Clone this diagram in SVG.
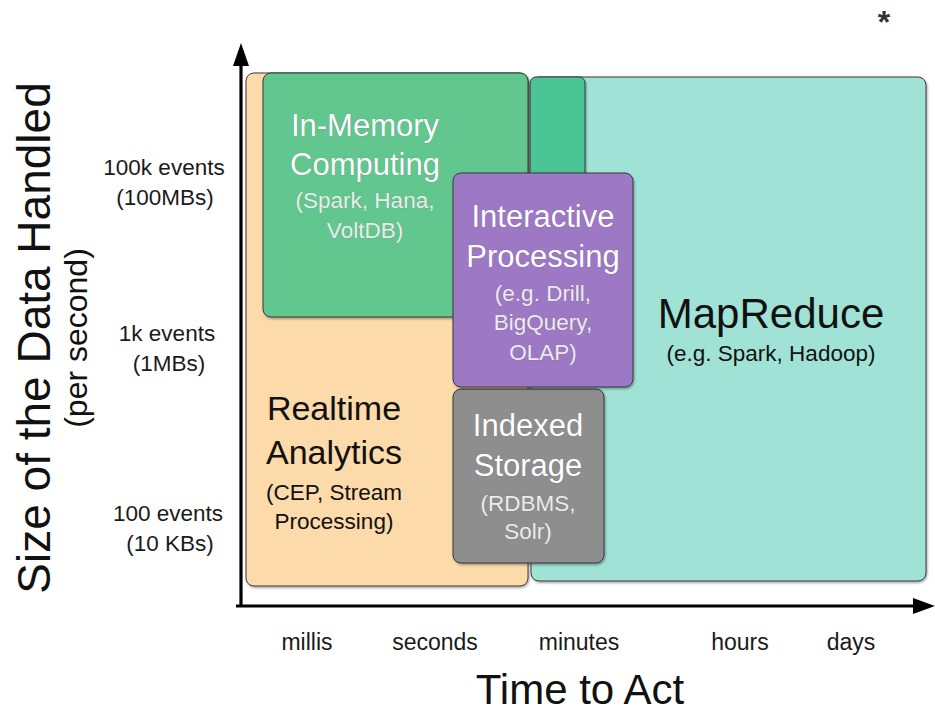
<svg xmlns="http://www.w3.org/2000/svg" width="935" height="715" viewBox="0 0 935 715">
  <defs>
    <filter id="shadow" x="-5%" y="-5%" width="110%" height="110%">
      <feDropShadow dx="1" dy="1.5" stdDeviation="0.8" flood-color="#000" flood-opacity="0.35"/>
    </filter>
  </defs>
  <style>
    text { font-family: "Liberation Sans", Arial, Helvetica, sans-serif; text-anchor: middle; }
    .box { stroke: #3a3a3a; stroke-width: 1; filter: url(#shadow); }
    .axis-label { font-size: 22.5px; fill: #1a1a1a; }
    .tick { font-size: 23px; fill: #1a1a1a; }
    .title-w { font-size: 31px; fill: #ffffff; stroke: rgba(60,60,60,0.35); stroke-width: 0.7; paint-order: stroke; }
    .sub-w { font-size: 22.5px; fill: #ececec; stroke: rgba(60,60,60,0.3); stroke-width: 0.6; paint-order: stroke; }
    .title-b { fill: #111111; }
    .sub-b { font-size: 22.5px; fill: #111111; }
  </style>

  <rect width="935" height="715" fill="#ffffff"/>

  <!-- Realtime Analytics (background region) -->
  <g id="realtime-analytics">
    <rect class="box" x="246" y="73" width="282" height="513" rx="8" fill="#FDDAAA"/>
    <text class="title-b" x="334" y="420" font-size="34">Realtime</text>
    <text class="title-b" x="334" y="464" font-size="34">Analytics</text>
    <text class="sub-b" x="334" y="500">(CEP, Stream</text>
    <text class="sub-b" x="334" y="529">Processing)</text>
  </g>

  <!-- MapReduce region -->
  <g id="mapreduce">
    <rect class="box" x="531" y="77" width="395" height="504" rx="8" fill="#A0E3D6"/>
    <rect class="box" x="530" y="77" width="55" height="240" rx="6" fill="#4CC596"/>
    <text class="title-b" x="771" y="328" font-size="42">MapReduce</text>
    <text class="sub-b" x="771" y="361">(e.g. Spark, Hadoop)</text>
  </g>

  <!-- In-Memory Computing -->
  <g id="in-memory">
    <rect class="box" x="263" y="73" width="265" height="244" rx="8" fill="#62C68F"/>
    <text class="title-w" x="365" y="136">In-Memory</text>
    <text class="title-w" x="365" y="175">Computing</text>
    <text class="sub-w" x="365" y="208">(Spark, Hana,</text>
    <text class="sub-w" x="365" y="238">VoltDB)</text>
  </g>

  <!-- Indexed Storage -->
  <g id="indexed-storage">
    <rect class="box" x="453" y="389" width="151" height="174" rx="8" fill="#8E8E8E"/>
    <text class="title-w" x="528" y="436">Indexed</text>
    <text class="title-w" x="528" y="476">Storage</text>
    <text class="sub-w" x="528" y="511">(RDBMS,</text>
    <text class="sub-w" x="528" y="539">Solr)</text>
  </g>

  <!-- Interactive Processing -->
  <g id="interactive-processing">
    <rect class="box" x="453" y="173" width="180" height="214" rx="8" fill="#9D78C4"/>
    <text class="title-w" x="543" y="227">Interactive</text>
    <text class="title-w" x="543" y="267">Processing</text>
    <text class="sub-w" x="543" y="301">(e.g. Drill,</text>
    <text class="sub-w" x="543" y="330">BigQuery,</text>
    <text class="sub-w" x="543" y="360">OLAP)</text>
  </g>

  <!-- Axes -->
  <g id="connectors" fill="#000" stroke="#000">
    <line x1="241" y1="607" x2="241" y2="62" stroke-width="3.2"/>
    <polygon points="241,43 233,66 249,66" stroke="none"/>
    <line x1="236" y1="606" x2="916" y2="606" stroke-width="3.2"/>
    <polygon points="935,606 913,598 913,614" stroke="none"/>
  </g>

  <!-- Vertical axis labels -->
  <g id="y-axis-labels">
    <text class="axis-label" x="164" y="175">100k events</text>
    <text class="axis-label" x="165" y="205">(100MBs)</text>
    <text class="axis-label" x="167" y="341">1k events</text>
    <text class="axis-label" x="169" y="371">(1MBs)</text>
    <text class="axis-label" x="168" y="521">100 events</text>
    <text class="axis-label" x="170" y="551">(10 KBs)</text>
    <text transform="translate(50,338) rotate(-90)" font-size="46" fill="#111">Size of the Data Handled</text>
    <text transform="translate(87,338) rotate(-90)" font-size="32" fill="#111">(per second)</text>
  </g>

  <!-- Horizontal axis labels -->
  <g id="x-axis-labels">
    <text class="tick" x="307" y="650">millis</text>
    <text class="tick" x="435" y="650">seconds</text>
    <text class="tick" x="579" y="650">minutes</text>
    <text class="tick" x="740" y="650">hours</text>
    <text class="tick" x="851" y="650">days</text>
    <text x="580" y="704" font-size="42" fill="#111">Time to Act</text>
  </g>

  <text x="884" y="33" font-size="32" fill="#333" font-weight="bold">*</text>
</svg>
